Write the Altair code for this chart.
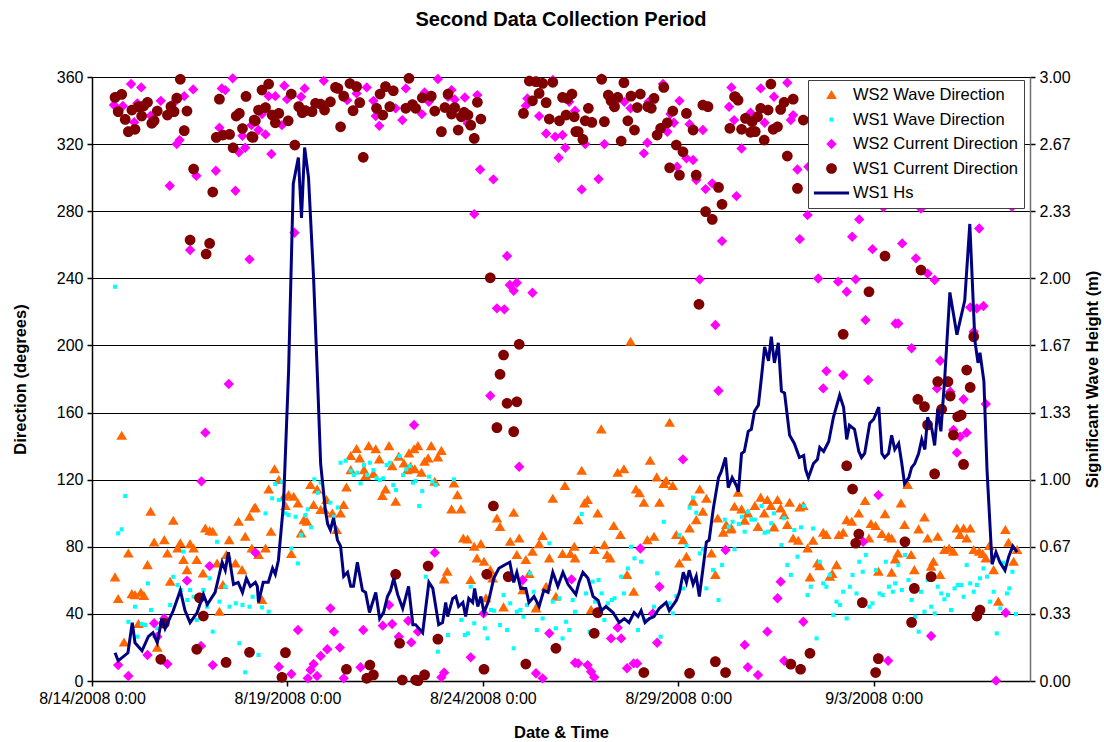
import altair as alt
import pandas as pd

FONT = "Liberation Sans"
START = pd.Timestamp("2008-08-14 00:00")

SERIES = ["WS2 Wave Direction", "WS1 Wave Direction", "WS2 Current Direction",
          "WS1 Current Direction", "WS1 Hs"]
COLORS = ["#FF6600", "#00FFFF", "#FF00FF", "#800000", "#000080"]

# Every symbol is drawn at one common size; the paths carry their own extent
# (1 unit = half the square root of SYMBOL_SIZE).
SYMBOL_SIZE = 1369
SHAPES = [
    "M0,-0.27L0.29,0.22L-0.29,0.22Z",                                   # triangle
    "M-0.11,-0.11L0.11,-0.11L0.11,0.11L-0.11,0.11Z",                    # small square
    "M0,-0.28L0.28,0L0,0.28L-0.28,0Z",                                  # diamond
    "M-0.29,0A0.29,0.29 0 1,0 0.29,0A0.29,0.29 0 1,0 -0.29,0Z",         # circle
    "M-0.95,-0.085L0.95,-0.085L0.95,0.085L-0.95,0.085Z",                # line swatch
]

# [days after 8/14/2008 0:00, direction in degrees]
WS2_WAVE = [
    [0.76,146.2],[1.5,100.9],[2.08,95.5],[0.93,76.0],[0.59,61.8],[0.67,48.9],[1.42,69.1],[1.59,82.6],
    [1.85,84.0],[1.93,76.0],[2.0,59.2],[2.19,79.0],[2.26,82.1],[2.51,81.6],[2.6,79.0],[2.34,72.1],
    [2.68,72.1],[2.43,66.1],[1.02,51.8],[1.10,51.2],[1.25,52.6],[1.33,50.7],[1.19,34.0],[0.82,23.0],
    [1.67,19.9],[2.9,90.9],[3.01,89.4],[3.09,89.0],[2.84,64.1],[3.26,41.3],[3.35,57.2],[3.2,70.1],
    [3.44,75.1],[3.51,84.0],[3.67,70.1],[3.75,94.9],[3.84,66.1],[3.92,86.0],[4.03,97.9],[4.15,102.9],
    [4.09,79.0],[4.67,126.2],[4.52,114.2],[4.78,119.8],[4.18,103.3],[4.44,79.0],[4.26,75.1],[4.58,89.0],
    [4.35,48.3],[4.91,109.8],[5.03,110.8],[5.16,109.8],[5.27,105.8],[4.95,104.3],[5.10,75.7],[5.35,88.0],
    [5.42,95.9],[5.5,94.9],[5.59,116.8],[5.76,114.2],[5.67,104.9],[5.85,101.9],[6.0,107.9],[5.95,101.9],
    [6.15,99.9],[6.26,90.0],[6.44,104.9],[6.36,99.9],[6.51,115.4],[6.62,134.1],[6.77,138.3],[6.85,132.7],
    [7.08,140.0],[7.26,138.1],[7.35,132.1],[7.60,140.0],[7.85,133.7],[8.11,135.7],[8.24,138.1],[6.62,125.7],
    [7.0,122.2],[6.96,125.7],[7.2,123.4],[7.68,128.1],[7.98,129.7],[7.43,110.3],[7.51,114.2],[7.77,106.9],
    [8.07,125.7],[8.15,127.7],[8.34,140.0],[8.68,140.0],[8.94,137.2],[8.60,132.7],[8.51,130.7],[8.85,133.3],
    [8.26,126.2],[8.43,124.1],[8.77,118.8],[9.26,117.8],[9.35,110.8],[9.20,102.3],[9.44,102.3],[9.50,85.0],
    [9.61,84.4],[9.78,80.0],[9.95,81.6],[9.85,73.1],[10.03,71.1],[9.09,65.1],[9.01,60.6],[9.69,60.2],
    [10.19,66.1],[10.25,61.2],[10.36,96.9],[10.44,91.9],[10.79,100.3],[10.70,83.0],[10.93,85.0],[10.87,75.1],
    [11.10,72.1],[11.19,63.8],[11.02,54.2],[11.27,77.1],[11.44,81.6],[11.53,86.4],[11.70,73.1],[11.36,43.3],
    [11.79,108.7],[12.10,116.2],[12.04,75.7],[12.24,75.7],[12.34,80.0],[11.62,56.2],[11.87,50.2],[10.53,43.9],
    [10.08,49.3],[13.78,202.2],[13.03,150.0],[14.78,153.9],[12.53,125.3],[13.45,124.1],[13.61,126.2],
    [14.28,131.3],[14.45,121.4],[14.69,119.4],[14.63,117.4],[14.86,116.2],[13.92,114.2],[14.01,111.9],
    [14.12,106.3],[14.52,106.3],[12.68,107.9],[12.60,105.9],[12.94,99.9],[12.44,95.9],[13.35,92.4],
    [13.52,87.0],[14.21,84.0],[14.38,86.0],[13.11,81.0],[13.18,75.1],[13.26,73.1],[12.85,78.1],[12.36,73.1],
    [13.69,63.2],[13.86,53.2],[12.77,42.3],[14.95,87.0],[15.12,84.0],[15.29,90.9],[15.46,95.9],[15.63,100.9],
    [15.72,108.7],[15.55,114.2],[15.38,106.9],[16.01,96.9],[16.44,103.9],[16.23,93.0],[16.15,88.4],
    [16.34,90.4],[15.21,74.1],[15.03,70.1],[15.85,76.0],[15.95,63.2],[16.53,112.2],[17.11,109.3],
    [17.28,107.9],[17.54,107.9],[17.37,104.3],[17.62,102.9],[17.85,106.3],[18.11,103.4],[18.20,104.3],
    [16.62,102.3],[16.78,99.9],[16.96,104.3],[17.20,99.9],[16.70,95.5],[17.04,91.9],[17.45,91.6],
    [17.71,98.9],[17.79,93.0],[16.36,90.9],[17.94,85.0],[18.07,83.6],[18.31,79.0],[18.45,83.6],[18.71,88.4],
    [18.79,87.0],[19.11,87.0],[19.22,88.4],[19.31,95.9],[19.44,94.9],[19.62,99.9],[19.78,107.3],[19.93,93.6],
    [20.05,92.4],[20.29,99.5],[20.21,87.6],[20.38,86.0],[19.88,85.0],[18.56,70.1],[18.62,68.5],[18.37,61.8],
    [18.88,62.2],[18.94,63.8],[19.05,69.1],[20.12,65.1],[20.46,64.5],[20.55,72.5],[20.87,116.8],[20.70,105.9],
    [20.79,93.0],[21.30,97.5],[21.15,90.4],[21.38,85.0],[21.64,86.0],[20.46,85.0],[20.62,76.0],[20.96,75.1],
    [21.04,66.1],[21.53,71.1],[21.47,68.1],[21.70,63.2],[21.81,78.1],[21.93,79.0],[22.04,77.1],[22.13,90.9],
    [22.30,90.9],[22.47,90.9],[22.21,87.0],[22.38,85.0],[22.56,78.1],[22.70,77.1],[22.79,75.7],[22.87,73.1],
    [22.96,80.5],[23.07,66.1],[23.37,90.0],[23.45,82.4],[23.58,71.1],[23.67,78.1],[23.19,47.3],
]

WS1_WAVE = [
    [0.59,235.0],[0.85,110.3],[0.67,88.0],[0.76,90.4],[1.43,58.2],[1.10,44.3],[1.51,42.3],[0.93,35.3],
    [1.27,34.0],[1.36,33.4],[3.2,83.0],[2.34,77.1],[2.08,62.1],[2.19,57.2],[2.27,54.2],[2.51,54.2],
    [2.44,48.3],[2.6,50.2],[2.85,54.2],[3.01,61.2],[2.68,36.4],[2.94,44.3],[3.26,47.3],[3.09,29.4],
    [3.41,56.2],[3.52,44.3],[3.68,46.3],[3.85,45.3],[4.03,44.3],[4.11,50.2],[3.77,22.5],[3.92,5.2],
    [2.0,45.3],[1.83,38.3],[1.16,26.4],[1.67,31.4],[4.69,117.4],[4.61,108.9],[4.78,107.9],[4.44,99.9],
    [4.86,118.8],[4.95,99.9],[5.03,98.9],[5.21,97.9],[5.46,98.9],[5.61,91.6],[5.52,102.3],[5.35,87.0],
    [5.10,79.0],[5.27,70.1],[5.69,120.2],[5.78,112.2],[5.85,118.2],[6.10,106.3],[6.19,97.9],[6.29,103.4],
    [6.36,130.1],[6.49,131.3],[6.62,125.3],[6.70,122.8],[6.79,124.1],[6.96,128.7],[7.11,130.1],[7.2,125.7],
    [7.04,122.8],[6.87,117.8],[7.28,120.8],[7.37,119.8],[7.45,120.8],[7.54,128.7],[7.62,130.1],[7.71,116.8],
    [7.78,113.8],[7.87,134.1],[7.96,122.8],[8.04,126.2],[8.13,128.1],[8.21,118.2],[4.35,43.9],[4.52,41.3],
    [4.26,15.5],[8.28,119.2],[8.45,113.2],[8.62,121.8],[8.71,118.8],[8.79,116.8],[9.26,120.2],[8.37,104.3],
    [8.54,62.2],[8.85,17.5],[9.11,27.4],[9.54,27.4],[9.62,28.4],[9.45,36.4],[9.69,56.2],[9.78,34.4],
    [10.05,31.4],[10.12,25.4],[10.21,42.3],[10.29,41.9],[10.44,33.4],[10.53,51.2],[10.62,30.4],[10.70,46.3],
    [10.79,19.5],[10.87,41.3],[10.96,42.3],[11.04,38.3],[11.13,45.3],[11.21,64.2],[11.30,53.2],[11.38,30.4],
    [11.53,37.3],[11.70,82.1],[11.79,47.3],[11.87,31.4],[11.96,49.3],[12.04,25.4],[12.13,35.3],[12.21,30.4],
    [12.30,48.3],[12.36,41.3],[12.53,99.5],[12.73,29.4],[12.64,52.2],[12.81,59.2],[12.96,60.2],[13.04,52.2],
    [12.87,47.3],[13.11,36.4],[13.20,46.3],[13.30,48.3],[13.37,49.3],[13.61,52.2],[13.71,67.1],[13.54,62.2],
    [13.88,73.1],[13.79,80.0],[14.05,71.1],[13.97,30.4],[14.14,36.4],[14.38,44.3],[14.46,64.2],[14.55,26.4],
    [14.63,94.9],[14.78,46.3],[14.86,40.3],[14.95,50.7],[15.03,87.0],[15.21,80.5],[15.12,55.2],[15.29,103.3],
    [15.38,109.3],[15.46,100.3],[15.55,76.0],[15.72,55.2],[15.63,78.5],[15.89,66.1],[16.12,69.1],[16.03,48.3],
    [16.19,96.2],[16.29,91.9],[16.39,94.9],[16.44,78.5],[16.55,93.6],[16.63,97.9],[16.78,100.9],[16.87,96.2],
    [16.96,96.2],[17.13,104.3],[17.21,88.4],[17.30,89.0],[17.38,94.0],[17.45,99.9],[17.71,97.0],[16.70,89.0],
    [17.64,81.0],[17.97,90.0],[18.14,91.6],[18.22,104.3],[18.45,90.9],[17.79,69.1],[17.88,63.2],[18.05,74.1],
    [18.31,51.2],[18.39,56.2],[18.62,71.1],[18.71,58.2],[18.79,56.2],[18.88,63.2],[18.97,39.3],[19.05,47.3],
    [19.14,45.3],[19.22,53.2],[19.31,37.3],[19.39,56.2],[19.46,63.2],[19.56,52.2],[19.63,71.1],[19.72,65.1],
    [19.80,75.1],[19.89,44.3],[19.97,46.3],[20.06,66.1],[20.15,52.2],[20.23,51.2],[20.31,71.1],[20.39,56.2],
    [20.49,53.2],[20.55,58.2],[18.54,25.4],[20.80,75.1],[20.63,69.1],[20.72,54.2],[20.89,60.2],[20.97,48.3],
    [21.06,38.3],[21.15,29.4],[21.21,53.2],[21.30,41.3],[21.38,60.2],[21.47,44.3],[21.56,40.3],[21.64,56.2],
    [21.73,52.2],[21.81,48.7],[21.90,51.2],[21.98,42.3],[22.07,55.2],[22.15,57.2],[22.24,57.2],[22.30,50.2],
    [22.38,69.1],[22.47,58.2],[22.56,53.2],[22.64,57.2],[22.72,61.2],[22.81,67.1],[22.90,62.2],[22.98,47.3],
    [23.07,53.2],[23.15,28.4],[23.24,43.3],[23.31,70.5],[23.41,52.2],[23.47,55.2],[23.55,65.1],[23.64,39.9],
]

WS2_CURRENT = [
    [1.0,355.8],[1.26,353.8],[0.56,343.3],[0.79,342.7],[1.16,344.3],[1.08,333.0],[1.5,336.9],[1.76,345.8],
    [2.08,344.3],[2.36,348.6],[2.59,352.6],[2.24,322.4],[2.17,320.0],[1.99,295.2],[2.67,301.1],[3.17,304.1],
    [2.51,256.9],[3.26,329.8],[3.32,353.2],[3.41,352.2],[3.6,359.2],[3.85,325.0],[3.76,315.1],[3.92,317.8],
    [3.67,292.2],[4.03,251.3],[4.08,331.3],[3.5,177.0],[2.9,148.0],[2.8,119.0],[0.67,9.5],[0.93,3.0],
    [1.42,15.5],[1.59,34.4],[1.67,26.4],[1.85,37.3],[1.93,10.1],[2.43,59.8],[3.01,68.5],[2.79,20.9],
    [3.09,9.5],[4.18,76.5],[4.92,354.8],[5.44,353.2],[5.93,357.7],[5.35,348.2],[4.99,346.8],[4.52,348.6],
    [4.69,348.6],[4.35,337.9],[4.26,328.4],[4.44,325.8],[4.86,331.3],[4.59,314.1],[5.18,267.2],[6.53,346.2],
    [6.77,350.2],[7.03,353.8],[7.20,345.8],[7.26,336.7],[7.35,330.9],[7.77,341.3],[7.94,334.3],[8.03,353.2],
    [8.24,152.6],[6.10,43.3],[6.19,29.4],[5.27,30.4],[6.34,19.9],[6.02,18.9],[5.85,14.9],[5.67,10.1],
    [5.59,6.6],[5.52,1.6],[5.76,3.0],[5.10,4.2],[4.78,8.5],[6.44,1.6],[6.87,8.2],[6.94,30.4],[7.44,33.0],
    [7.68,34.0],[7.60,45.3],[7.85,26.4],[8.09,35.9],[8.17,23.0],[8.85,358.8],[8.51,350.8],[8.62,345.2],
    [8.44,337.9],[9.20,352.2],[9.28,346.6],[9.11,348.2],[9.54,347.8],[9.86,349.2],[9.61,332.4],[9.93,304.9],
    [10.27,299.0],[9.78,278.3],[10.62,253.3],[10.69,236.0],[10.87,237.4],[10.79,232.6],[11.27,231.4],
    [10.36,222.1],[10.55,221.5],[11.14,347.2],[11.10,342.9],[11.44,336.7],[11.79,358.2],[12.21,345.2],
    [12.36,339.9],[11.62,326.3],[11.85,324.4],[12.04,325.4],[12.11,317.8],[11.94,311.9],[10.19,170.0],
    [10.93,127.7],[8.77,76.5],[11.02,60.2],[8.34,29.4],[9.69,14.1],[9.01,5.0],[8.94,2.2],[11.36,4.6],
    [11.53,1.6],[11.70,28.4],[12.27,60.6],[12.36,10.9],[10.02,40.3],[13.03,359.2],[14.61,355.8],[16.36,353.8],
    [12.62,320.0],[13.11,320.0],[13.35,341.8],[13.62,345.2],[13.78,341.3],[14.12,314.5],[14.21,320.8],
    [14.24,345.2],[14.72,327.4],[14.80,337.9],[14.89,332.7],[15.03,345.8],[15.29,331.9],[15.63,328.4],
    [15.21,311.5],[15.38,310.5],[15.46,298.6],[14.97,306.5],[15.70,293.2],[15.87,296.6],[16.30,342.3],
    [16.43,334.3],[16.49,289.0],[12.53,293.0],[12.96,299.2],[16.12,262.2],[15.55,239.4],[15.95,212.2],
    [16.03,173.0],[15.12,132.1],[14.03,79.0],[16.21,78.1],[14.52,56.2],[14.35,40.3],[13.45,31.8],[13.28,25.4],
    [13.54,25.4],[14.46,22.8],[12.44,10.5],[12.68,9.5],[12.77,5.5],[12.85,2.2],[13.69,7.6],[13.86,10.5],
    [13.95,10.5],[17.11,353.2],[17.45,348.2],[17.79,356.6],[17.21,332.7],[17.94,337.3],[17.88,334.3],
    [16.85,338.7],[16.62,317.4],[18.05,304.9],[18.33,306.5],[18.31,277.7],[18.11,263.4],[18.58,239.9],
    [19.09,238.0],[19.31,232.0],[19.54,239.4],[19.45,264.8],[19.63,275.1],[19.97,257.4],[20.25,282.3],
    [19.79,215.1],[20.56,213.1],[18.79,184.7],[19.22,182.4],[19.86,179.4],[18.71,174.4],[20.12,110.8],
    [19.73,83.0],[17.62,59.2],[17.54,49.3],[18.20,35.3],[17.28,29.4],[16.70,21.5],[16.78,8.2],[17.04,3.6],
    [17.71,12.1],[20.37,12.1],[21.21,281.6],[23.54,282.6],[20.73,260.8],[21.08,251.9],[21.38,242.9],
    [21.56,239.0],[20.63,213.1],[20.97,198.3],[21.70,190.9],[22.70,269.7],[22.47,222.7],[22.64,222.1],
    [22.81,223.5],[22.56,208.2],[21.62,174.4],[21.96,172.4],[22.30,167.9],[22.87,165.1],[22.04,149.6],
    [22.21,145.6],[22.38,148.0],[22.13,136.1],[21.47,26.8],[23.38,40.7],[23.13,0.2],
]

WS1_CURRENT = [
    [0.59,347.8],[0.76,349.6],[0.67,339.3],[0.85,334.7],[0.93,327.4],[1.10,328.8],[1.02,340.3],[1.19,342.3],
    [1.32,342.7],[1.42,344.9],[1.27,336.7],[1.53,332.4],[1.59,333.9],[1.67,339.7],[1.93,337.3],[2.02,342.3],
    [2.10,339.3],[2.17,347.4],[2.26,358.6],[2.43,339.7],[2.36,328.0],[2.60,305.1],[3.09,291.4],[2.51,262.8],
    [3.01,260.8],[2.92,254.5],[3.26,346.8],[3.18,324.0],[3.35,325.4],[3.52,325.8],[3.61,317.8],[3.69,336.7],
    [3.77,338.3],[3.85,329.3],[3.94,348.4],[4.09,324.4],[4.15,334.3],[2.75,49.6],[2.85,38.7],[1.85,34.4],
    [1.76,12.9],[2.68,18.9],[3.43,11.1],[4.03,17.1],[4.52,355.8],[4.35,352.2],[4.26,340.3],[4.44,341.7],
    [4.18,333.9],[4.12,324.0],[4.61,337.3],[4.78,338.3],[4.69,332.7],[5.02,333.9],[5.10,349.8],[5.29,342.3],
    [5.38,338.7],[5.46,339.9],[5.63,339.3],[5.72,344.3],[5.85,343.9],[5.95,340.3],[6.10,345.2],[6.23,353.8],
    [6.29,353.2],[6.44,348.6],[6.60,356.1],[6.77,354.2],[6.85,344.7],[6.68,339.9],[6.36,330.3],[5.19,319.4],
    [6.94,312.1],[7.37,349.8],[7.51,354.2],[7.71,351.8],[7.28,341.3],[7.44,337.3],[7.62,342.3],[8.03,341.3],
    [8.20,343.6],[8.11,359.2],[4.95,16.9],[4.86,2.2],[6.51,7.0],[7.11,9.5],[7.03,1.6],[7.20,3.6],[7.77,63.6],
    [7.87,22.5],[7.94,0.6],[8.28,0.6],[8.28,341.3],[8.45,347.6],[8.68,348.6],[8.77,339.7],[8.94,327.4],
    [9.03,341.8],[9.11,349.8],[9.20,337.9],[9.28,341.7],[9.37,328.4],[9.45,336.3],[9.52,338.9],[9.62,337.3],
    [9.69,331.3],[9.78,323.4],[9.86,344.9],[9.95,334.9],[11.19,357.6],[11.36,357.2],[11.53,356.2],
    [11.79,356.8],[11.44,350.2],[11.27,345.8],[11.62,344.7],[11.04,338.3],[11.70,334.9],[11.96,333.9],
    [12.04,347.8],[12.17,347.2],[12.28,349.8],[12.13,337.3],[12.34,336.3],[12.38,327.4],[10.19,240.3],
    [10.93,200.7],[10.53,194.3],[10.44,182.8],[10.62,165.5],[10.87,166.4],[10.36,151.0],[10.79,148.6],
    [10.27,104.3],[8.60,68.5],[10.10,63.6],[10.65,62.2],[8.85,24.9],[8.51,3.6],[8.34,0.2],[10.03,7.0],
    [11.10,10.1],[11.87,19.5],[13.04,358.6],[13.61,356.6],[12.62,333.9],[12.79,332.9],[12.70,341.3],
    [12.44,327.4],[12.56,322.8],[13.11,333.4],[13.21,349.2],[13.37,342.3],[13.45,347.8],[13.28,345.8],
    [13.71,333.9],[13.79,348.6],[13.88,328.4],[14.03,349.8],[13.95,341.8],[14.22,342.3],[14.31,341.3],
    [14.38,347.2],[13.54,321.8],[14.63,353.8],[14.46,325.4],[14.55,329.4],[14.72,332.7],[14.86,339.7],
    [15.21,338.3],[15.38,328.4],[14.95,319.4],[15.12,315.4],[14.78,305.9],[15.03,301.5],[15.46,301.5],
    [15.63,343.3],[15.76,342.3],[16.03,294.2],[16.12,284.1],[15.70,279.7],[15.87,275.1],[15.53,224.5],
    [16.32,329.4],[16.44,348.2],[12.94,40.7],[12.85,28.4],[14.12,5.0],[15.29,4.6],[15.95,11.5],[16.21,5.0],
    [17.37,355.8],[17.94,346.8],[17.71,344.9],[17.62,340.7],[17.11,341.3],[17.30,340.3],[17.03,336.3],
    [16.72,335.3],[16.89,333.4],[16.62,328.8],[16.85,327.0],[16.97,327.4],[17.20,322.4],[17.43,328.8],
    [17.54,330.3],[18.20,334.3],[16.46,348.2],[16.53,346.2],[17.79,312.9],[18.05,293.6],[20.29,253.3],
    [19.88,232.0],[19.22,206.6],[19.31,128.3],[19.46,114.4],[19.62,87.6],[19.54,82.1],[19.71,46.7],
    [18.37,16.5],[17.88,10.0],[18.13,7.0],[20.12,13.3],[20.05,5.0],[21.21,244.9],[22.56,205.2],[22.38,185.3],
    [21.64,178.4],[21.90,178.4],[21.13,167.9],[21.30,163.5],[21.96,169.8],[22.47,175.0],[21.74,161.9],
    [21.38,152.6],[22.15,157.5],[22.24,158.5],[22.04,146.6],[22.30,129.1],[21.56,123.4],[20.80,83.0],
    [21.47,62.2],[21.04,55.2],[20.97,34.9],[22.64,38.7],[22.72,42.3],
]

# [days after 8/14/2008 0:00, significant wave height in metres]
WS1_HS = [
    [0.59,0.14],[0.67,0.10],[0.92,0.14],[1.03,0.29],[1.10,0.19],[1.28,0.15],[1.44,0.22],[1.56,0.24],
    [1.67,0.19],[1.79,0.31],[1.87,0.26],[2.08,0.35],[2.26,0.45],[2.38,0.35],[2.51,0.29],[2.69,0.34],
    [2.85,0.43],[2.95,0.38],[3.15,0.44],[3.33,0.59],[3.41,0.55],[3.49,0.64],[3.62,0.48],[3.74,0.49],
    [3.85,0.44],[3.95,0.51],[4.05,0.47],[4.18,0.49],[4.23,0.47],[4.26,0.39],[4.38,0.49],[4.51,0.49],
    [4.62,0.56],[4.69,0.53],[4.77,0.60],[4.90,0.88],[5.03,1.54],[5.15,2.47],[5.28,2.60],[5.36,2.30],
    [5.44,2.65],[5.54,2.50],[5.67,2.00],[5.77,1.50],[5.85,1.08],[5.97,0.85],[6.03,0.78],[6.10,0.75],
    [6.18,0.81],[6.28,0.70],[6.36,0.67],[6.44,0.52],[6.54,0.54],[6.62,0.47],[6.69,0.47],[6.79,0.59],
    [6.92,0.45],[7.00,0.44],[7.10,0.34],[7.26,0.44],[7.36,0.31],[7.46,0.34],[7.56,0.42],[7.64,0.45],
    [7.72,0.51],[7.82,0.43],[7.95,0.36],[8.10,0.47],[8.21,0.28],[8.28,0.28],[8.46,0.24],[8.62,0.49],
    [8.72,0.46],[8.87,0.28],[8.97,0.29],[9.05,0.39],[9.10,0.32],[9.23,0.41],[9.31,0.42],[9.38,0.37],
    [9.49,0.39],[9.56,0.32],[9.64,0.41],[9.74,0.39],[9.79,0.46],[9.87,0.37],[9.95,0.42],[10.03,0.34],
    [10.15,0.40],[10.28,0.51],[10.41,0.56],[10.59,0.58],[10.69,0.59],[10.79,0.49],[10.87,0.54],[10.97,0.46],
    [11.10,0.46],[11.18,0.39],[11.31,0.42],[11.44,0.37],[11.56,0.45],[11.67,0.44],[11.79,0.54],[11.92,0.47],
    [12.05,0.54],[12.18,0.48],[12.38,0.43],[12.46,0.49],[12.56,0.54],[12.69,0.51],[12.82,0.42],[12.95,0.40],
    [13.03,0.35],[13.15,0.37],[13.33,0.34],[13.49,0.29],[13.62,0.31],[13.74,0.29],[13.87,0.34],[13.97,0.32],
    [14.05,0.35],[14.15,0.29],[14.26,0.31],[14.38,0.32],[14.51,0.36],[14.69,0.39],[14.77,0.35],[14.95,0.40],
    [15.03,0.44],[15.13,0.54],[15.21,0.49],[15.28,0.55],[15.38,0.48],[15.46,0.52],[15.54,0.42],[15.64,0.57],
    [15.72,0.69],[15.79,0.70],[15.90,0.86],[16.03,1.01],[16.10,1.04],[16.21,1.11],[16.28,0.96],[16.38,1.01],
    [16.49,0.97],[16.54,0.94],[16.62,1.13],[16.69,1.14],[16.79,1.24],[16.87,1.25],[16.95,1.34],[17.05,1.37],
    [17.13,1.51],[17.21,1.66],[17.31,1.59],[17.38,1.71],[17.46,1.58],[17.56,1.68],[17.64,1.44],[17.72,1.43],
    [17.85,1.22],[17.97,1.18],[18.10,1.11],[18.21,1.12],[18.26,1.05],[18.33,1.01],[18.46,1.08],[18.56,1.10],
    [18.62,1.16],[18.72,1.14],[18.85,1.19],[18.97,1.31],[19.13,1.42],[19.23,1.36],[19.31,1.20],[19.38,1.27],
    [19.51,1.25],[19.62,1.14],[19.69,1.11],[19.77,1.13],[19.90,1.28],[20.00,1.30],[20.13,1.36],[20.21,1.13],
    [20.28,1.11],[20.38,1.13],[20.46,1.22],[20.54,1.15],[20.64,1.18],[20.72,1.08],[20.79,0.98],[20.90,1.01],
    [20.97,1.06],[21.05,1.08],[21.15,1.13],[21.23,1.20],[21.31,1.15],[21.38,1.31],[21.49,1.25],[21.56,1.17],
    [21.64,1.35],[21.72,1.24],[21.82,1.51],[21.95,1.93],[22.13,1.72],[22.33,1.89],[22.46,2.27],[22.59,1.69],
    [22.67,1.58],[22.72,1.63],[22.82,1.49],[22.90,1.05],[23.03,0.58],[23.13,0.64],[23.23,0.59],[23.36,0.55],
    [23.46,0.62],[23.56,0.67],[23.67,0.64],
]

X_TICKS = [(8, 14), (8, 19), (8, 24), (8, 29), (9, 3)]
DEG_TICKS = list(range(0, 361, 40))
HS_TICKS = [i / 3 for i in range(10)]


def frame(rows, name, col):
    df = pd.DataFrame(rows, columns=["day", col])
    df["time"] = START + pd.to_timedelta(df["day"], unit="D")
    df["series"] = name
    return df.drop(columns="day")


points_df = pd.concat([
    frame(WS2_WAVE, SERIES[0], "deg"),
    frame(WS1_WAVE, SERIES[1], "deg"),
    frame(WS2_CURRENT, SERIES[2], "deg"),
    frame(WS1_CURRENT, SERIES[3], "deg"),
], ignore_index=True)
points_df["order"] = points_df["series"].map({s: i for i, s in enumerate(SERIES)})
hs_df = frame(WS1_HS, SERIES[4], "hs")

x_enc = alt.X(
    "time:T",
    scale=alt.Scale(domain=[alt.DateTime(year=2008, month=8, date=14),
                            alt.DateTime(year=2008, month=9, date=7)]),
    axis=alt.Axis(
        title="Date & Time",
        values=[alt.DateTime(year=2008, month=m, date=d) for m, d in X_TICKS],
        format="%-m/%-d/%Y %-H:%M",
        grid=False, labelOverlap=False, labelFlush=False,
        tickSize=5, labelPadding=4, titlePadding=18,
    ),
)

points = alt.Chart(points_df).mark_point(
    filled=True, size=SYMBOL_SIZE, opacity=1, strokeWidth=0
).encode(
    x=x_enc,
    y=alt.Y(
        "deg:Q",
        scale=alt.Scale(domain=[0, 360], nice=False, zero=True),
        axis=alt.Axis(
            title="Direction (degrees)", values=DEG_TICKS, grid=True,
            gridColor="#000000", gridWidth=1, tickSize=5, labelPadding=4,
            titlePadding=28,
        ),
    ),
    color=alt.Color(
        "series:N",
        scale=alt.Scale(domain=SERIES, range=COLORS),
        legend=alt.Legend(
            title=None, orient="none", legendX=716, legendY=3,
            fillColor="#FFFFFF", strokeColor="#404040",
            padding=5, labelFont=FONT, labelFontSize=16.5, labelColor="#000000",
            labelOffset=3, labelLimit=400, symbolSize=SYMBOL_SIZE,
            symbolStrokeWidth=0, clipHeight=20, rowPadding=4.5,
        ),
    ),
    shape=alt.Shape("series:N", scale=alt.Scale(domain=SERIES, range=SHAPES)),
    order=alt.Order("order:Q"),
)

hs_line = alt.Chart(hs_df).mark_line(color="#000080", strokeWidth=3).encode(
    x=x_enc,
    y=alt.Y(
        "hs:Q",
        scale=alt.Scale(domain=[0, 3], nice=False),
        axis=alt.Axis(
            title="Significant Wave Height (m)", orient="right", values=HS_TICKS,
            format=".2f", grid=False, tickSize=5, labelPadding=4,
            titleAngle=270, titleBaseline="top", titlePadding=14,
            domainColor="#707070",
        ),
    ),
)

chart = alt.layer(points, hs_line).resolve_scale(y="independent").properties(
    width=938,
    height=604,
    background="#FFFFFF",
    title=alt.Title(
        "Second Data Collection Period", font=FONT, fontSize=20,
        fontWeight="bold", color="#000000", anchor="middle",
        baseline="alphabetic", offset=23,
    ),
    padding={"left": 92, "top": 77, "right": 74, "bottom": 61},
    autosize=alt.AutoSizeParams(type="none"),
).configure_view(
    stroke="#808080", strokeWidth=1
).configure_axis(
    labelFont=FONT, labelFontSize=16, labelColor="#000000",
    titleFont=FONT, titleFontSize=16.5, titleFontWeight="bold", titleColor="#000000",
    domainColor="#000000", domainWidth=1.5, tickColor="#000000", tickWidth=1.5,
)

chart.save("out.html", embed_options={"renderer": "svg", "actions": False})
